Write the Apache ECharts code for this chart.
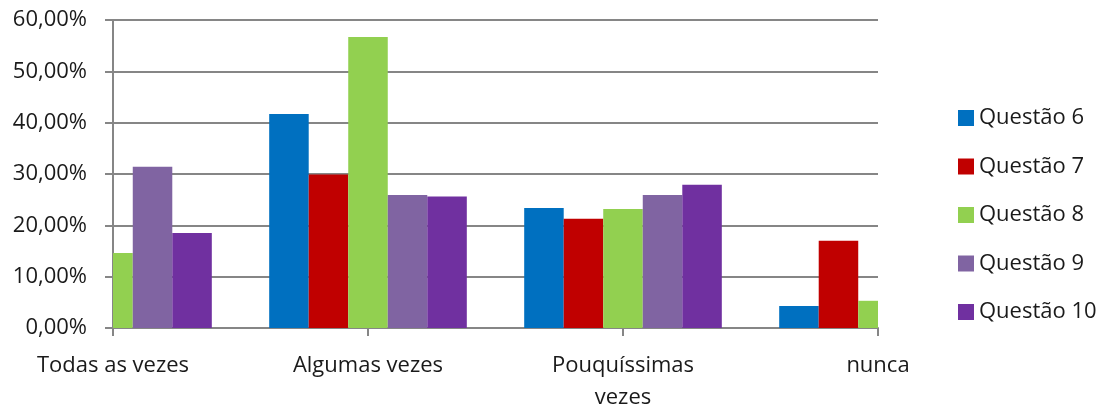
<!DOCTYPE html>
<html>
<head>
<meta charset="utf-8">
<script src="https://cdn.jsdelivr.net/npm/echarts@6/dist/echarts.min.js"></script>
<style>
  html, body { margin: 0; padding: 0; background: #ffffff; }
  #chart { width: 1099px; height: 407px; }
</style>
</head>
<body>
<div id="chart"></div>
<script>
// Response categories (x axis)
const categories = ['Todas as vezes', 'Algumas vezes', 'Pouquíssimas\nvezes', 'nunca'];

// Share of answers per question, in percent
const questao6  = [30.6, 41.7, 23.4, 4.3];
const questao7  = [31.8, 29.9, 21.3, 17.0];
const questao8  = [14.6, 56.7, 23.2, 5.3];
const questao9  = [31.4, 25.9, 25.9, 16.8];
const questao10 = [18.5, 25.6, 27.9, 28.0];

const seriesNames = ['Questão 6', 'Questão 7', 'Questão 8', 'Questão 9', 'Questão 10'];
const seriesColors = ['#0070C0', '#C00000', '#92D050', '#8064A2', '#7030A0'];
const seriesData = [questao6, questao7, questao8, questao9, questao10];

// Y axis ticks
const yTicks = [0, 10, 20, 30, 40, 50, 60];

const FONT = 'Open Sans';
const AXIS_GRAY = '#868686';
const GROUP_FRACTION = 0.775; // share of a category step taken by one group of bars

// Clustered bars centred on each category tick; anything outside the plot area is cut off.
function makeRenderItem(seriesIndex, count) {
  return function (params, api) {
    const cat = api.value(0);
    const val = api.value(1);
    const base = api.coord([cat, 0]);
    const top = api.coord([cat, val]);
    const step = api.size([1, 0])[0];
    const groupW = step * GROUP_FRACTION;
    const barW = groupW / count;
    const x = base[0] - groupW / 2 + seriesIndex * barW;
    const cs = params.coordSys;
    const shape = echarts.graphic.clipRectByRect(
      { x: x, y: top[1], width: barW, height: base[1] - top[1] },
      { x: cs.x, y: cs.y, width: cs.width, height: cs.height }
    );
    if (!shape) return null;
    return { type: 'rect', shape: shape, style: api.style() };
  };
}

const chart = echarts.init(document.getElementById('chart'), null, { renderer: 'canvas' });

chart.setOption({
  animation: false,
  backgroundColor: '#ffffff',
  textStyle: { fontFamily: FONT },
  grid: { left: 113, right: 221, top: 20, bottom: 79, containLabel: false, outerBoundsMode: 'none' },
  legend: {
    orient: 'vertical',
    left: 953,
    top: 102,
    itemWidth: 16,
    itemHeight: 16,
    itemGap: 26.5,
    icon: 'rect',
    data: seriesNames,
    textStyle: { fontFamily: FONT, fontSize: 22, color: '#1a1a1a' }
  },
  xAxis: {
    type: 'category',
    data: categories,
    boundaryGap: false,
    axisLine: { lineStyle: { color: AXIS_GRAY, width: 2 } },
    axisTick: { show: true, length: 8, lineStyle: { color: AXIS_GRAY, width: 2 } },
    axisLabel: {
      interval: 0,
      margin: 22,
      fontFamily: FONT,
      fontSize: 22,
      lineHeight: 32,
      color: '#1a1a1a',
      align: 'center'
    },
    splitLine: { show: false }
  },
  yAxis: {
    type: 'value',
    min: yTicks[0],
    max: yTicks[yTicks.length - 1],
    interval: 10,
    axisLine: { show: true, lineStyle: { color: AXIS_GRAY, width: 2 } },
    axisTick: { show: true, length: 8, lineStyle: { color: AXIS_GRAY, width: 2 } },
    axisLabel: {
      margin: 26,
      fontFamily: FONT,
      fontSize: 22,
      color: '#1a1a1a',
      formatter: v => v.toFixed(2).replace('.', ',') + '%'
    },
    splitLine: { show: true, lineStyle: { color: AXIS_GRAY, width: 2 } }
  },
  series: seriesNames.map((name, i) => ({
    name,
    type: 'custom',
    coordinateSystem: 'cartesian2d',
    renderItem: makeRenderItem(i, seriesNames.length),
    encode: { x: 0, y: 1 },
    data: seriesData[i].map((v, c) => [c, v]),
    itemStyle: { color: seriesColors[i] },
    z: 2
  }))
});
</script>
</body>
</html>
